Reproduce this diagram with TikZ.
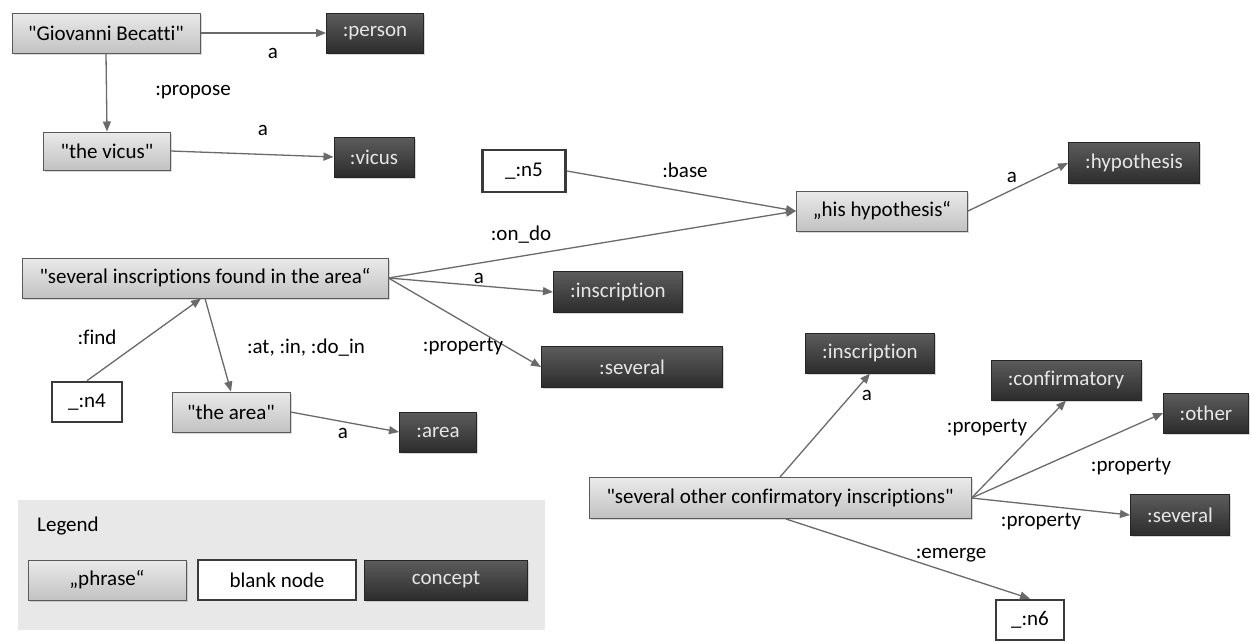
\documentclass[tikz,border=0pt]{standalone}
\usepackage{fontspec}
\setmainfont{Carlito}[Ligatures={TeXOff,NoCommon}]
\usetikzlibrary{arrows.meta,shadows}
\definecolor{phtop}{HTML}{EAEAEA}
\definecolor{phbot}{HTML}{C2C2C2}
\definecolor{phdraw}{HTML}{5A5A5A}
\definecolor{cotop}{HTML}{5C5C5C}
\definecolor{cobot}{HTML}{2C2C2C}
\definecolor{codraw}{HTML}{252525}
\definecolor{cotext}{HTML}{E6E6E6}
\definecolor{bldraw}{HTML}{3A3A3A}
\definecolor{edgecol}{HTML}{6A6A6A}
\definecolor{legbg}{HTML}{E8E8E8}
\begin{document}
\begin{tikzpicture}[x=1pt,y=-1pt,
  txt/.style={font=\fontsize{21}{24}\selectfont},
  boxbase/.style={rectangle, inner sep=0pt, txt, anchor=center},
  sz/.style 2 args={minimum width=#1pt, minimum height=#2pt},
  phrase/.style={boxbase, draw=phdraw, line width=1pt, top color=phtop, bottom color=phbot, text=black,
    drop shadow={opacity=0.3, shadow xshift=1.5pt, shadow yshift=-1.5pt}},
  concept/.style={boxbase, draw=codraw, line width=1pt, top color=cotop, bottom color=cobot, text=cotext,
    drop shadow={opacity=0.3, shadow xshift=1.5pt, shadow yshift=-1.5pt}},
  blank/.style={boxbase, draw=bldraw, line width=2.6pt, fill=white, text=black},
  lbl/.style={txt, inner sep=0pt, text=black},
  edge/.style={draw=edgecol, line width=1.3pt, -{Triangle[length=10pt,width=8pt]}}
]
\useasboundingbox[fill=white] (0,0) rectangle (1251,641);

% legend
\fill[legbg] (18,500) rectangle (545,630);
\node[lbl] (leg) at (68,526) {Legend};
\node[phrase, sz={158}{40}] (lp) at (107,580) {„phrase“};
\node[blank, sz={158}{40}] (lb) at (277,580) {blank node};
\node[concept, sz={163}{40}] (lc) at (446,580) {concept};

% nodes
\node[phrase, sz={188}{40}] (gb) at (106,33) {"Giovanni Becatti"};
\node[concept, sz={97}{40}] (person) at (375,33) {:person};
\node[phrase, sz={127}{38}] (vp) at (107,151) {"the vicus"};
\node[concept, sz={80}{40}] (vicus) at (374,157) {:vicus};
\node[blank, sz={83}{42}] (n5) at (524,171) {\_:n5};
\node[phrase, sz={171}{40}] (hh) at (882,211) {„his hypothesis“};
\node[concept, sz={131}{41}] (hyp) at (1134,163) {:hypothesis};
\node[phrase, sz={366}{40}] (sia) at (205,278) {"several inscriptions found in the area“};
\node[concept, sz={129}{41}] (ins1) at (618,292) {:inscription};
\node[concept, sz={181}{41}] (sev1) at (632,367) {:several};
\node[blank, sz={70}{40}] (n4) at (87,402) {\_:n4};
\node[phrase, sz={118}{40}] (ap) at (231,412) {"the area"};
\node[concept, sz={77}{40}] (area) at (438,432) {:area};
\node[phrase, sz={382}{41}] (soci) at (780,498) {"several other confirmatory inscriptions"};
\node[concept, sz={129}{40}] (ins2) at (870,353) {:inscription};
\node[concept, sz={150}{40}] (conf) at (1066,380) {:confirmatory};
\node[concept, sz={85}{40}] (other) at (1206,413) {:other};
\node[concept, sz={99}{41}] (sev2) at (1180,515) {:several};
\node[blank, sz={68}{40}] (n6) at (1030,620) {\_:n6};

% edges
\draw[edge] (gb.east) -- (person.west);
\draw[edge] (gb.south) -- (vp.north);
\draw[edge] (vp.east) -- (vicus.west);
\draw[edge] (n5.east) -- (hh.west);
\draw[edge] (sia.east) -- (hh.west);
\draw[edge] (hh.east) -- (hyp.west);
\draw[edge] (sia.east) -- (ins1.west);
\draw[edge] (sia.east) -- (sev1.west);
\draw[edge] (n4.north) -- ([xshift=-4pt]sia.south);
\draw[edge] (sia.south) -- (ap.north);
\draw[edge] (ap.east) -- (area.west);
\draw[edge] (soci.north) -- (ins2.south);
\draw[edge] (soci.east) -- (conf.south);
\draw[edge] (soci.east) -- (other.west);
\draw[edge] (soci.east) -- (sev2.west);
\draw[edge] ([xshift=6pt]soci.south) -- (n6.north);

% edge labels
\node[lbl] (l1) at (273,53) {a};
\node[lbl] (l2) at (193,92) {:propose};
\node[lbl] (l3) at (263,130) {a};
\node[lbl] (l4) at (685,170) {:base};
\node[lbl] (l5) at (1012,177) {a};
\node[lbl] (l6) at (521,235) {:on\_do};
\node[lbl] (l7) at (479,278) {a};
\node[lbl] (l8) at (97,337) {:find};
\node[lbl] (l9) at (306,348) {:at, :in, :do\_in};
\node[lbl] (l10) at (463,347) {:property};
\node[lbl] (l11) at (343,433) {a};
\node[lbl] (l12) at (867,395) {a};
\node[lbl] (l13) at (987,428) {:property};
\node[lbl] (l14) at (1131,467) {:property};
\node[lbl] (l15) at (1041,522) {:property};
\node[lbl] (l16) at (951,555) {:emerge};
\end{tikzpicture}
\end{document}
